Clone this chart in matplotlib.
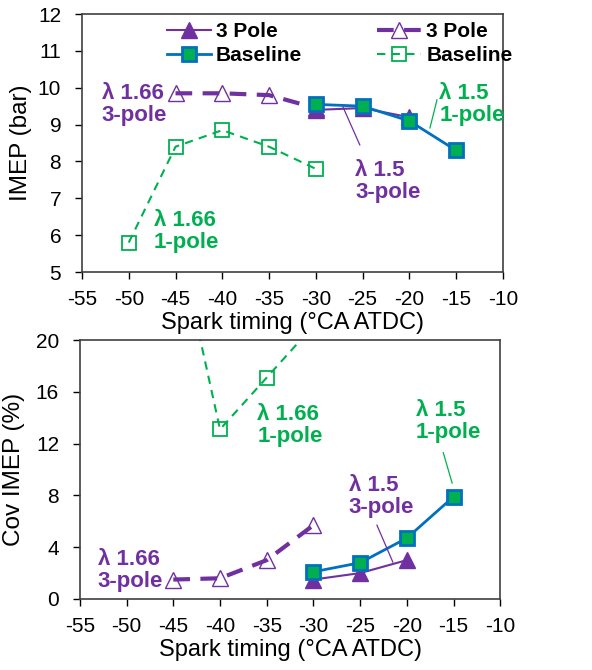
import matplotlib.pyplot as plt

plt.rcParams['font.family'] = ['Liberation Sans', 'DejaVu Sans']
plt.rcParams['axes.unicode_minus'] = False

# spark timing (deg CA ATDC)
t_15 = [-30, -25, -20]
t_15_base = [-30, -25, -20, -15]
t_166_3p = [-45, -40, -35, -30]
t_166_base = [-50, -45, -40, -35, -30]

# IMEP (bar)
imep_3p_15 = [9.4, 9.45, 9.2]
imep_3p_166 = [9.85, 9.85, 9.8, 9.45]
imep_base_15 = [9.55, 9.5, 9.1, 8.3]
imep_base_166 = [5.8, 8.4, 8.85, 8.4, 7.8]

# CoV IMEP (%)
cov_3p_15 = [1.5, 2.0, 3.0]
cov_3p_166 = [1.5, 1.6, 3.0, 5.7]
cov_base_15 = [2.1, 2.8, 4.7, 7.9]
cov_base_166 = [40.0, 29.5, 13.1, 17.1, 21.1]

purple = '#7030A0'
green = '#00B050'
blue = '#0070C0'

fig = plt.figure(figsize=(5.92, 6.70), dpi=100)
ax1 = fig.add_axes([0.1385, 0.594, 0.711, 0.385])
ax2 = fig.add_axes([0.135, 0.106, 0.710, 0.3865])


def draw(ax, y3s, y3d, ybs, ybd):
    ax.plot(t_166_base, ybd, '--', color=green, lw=1.5, marker='s', ms=10,
            mfc='none', mec=green, mew=1.3, label='Baseline', dashes=(4, 3))
    ax.plot(t_166_3p, y3d, '--', color=purple, lw=3, marker='^', ms=11,
            mfc='none', mec=purple, mew=1.0, label='3 Pole', dashes=(4, 2.5))
    ax.plot(t_15, y3s, '-', color=purple, lw=1.5, marker='^', ms=11,
            mfc=purple, mec=purple, label='3 Pole')
    ax.plot(t_15_base, ybs, '-', color=blue, lw=2, marker='s', ms=10,
            mfc=green, mec=blue, mew=2, label='Baseline')
    ax.set_xlim(-55, -10)
    ax.set_xticks(range(-55, -9, 5))
    ax.tick_params(labelsize=15, direction='out', length=5, width=1)
    ax.tick_params(axis='x', pad=8)
    ax.tick_params(axis='y', pad=10)
    for s in ax.spines.values():
        s.set_color('#404040')
        s.set_linewidth(1.2)
    ax.set_xlabel('Spark timing (°CA ATDC)', fontsize=17, labelpad=2)


draw(ax1, imep_3p_15, imep_3p_166, imep_base_15, imep_base_166)
ax1.set_ylim(5, 12)
ax1.set_yticks(range(5, 13))
ax1.set_ylabel('IMEP (bar)', fontsize=17.5, labelpad=4)

h, l = ax1.get_legend_handles_labels()
order = [2, 3, 1, 0]
ax1.legend([h[i] for i in order], [l[i] for i in order], ncol=2, frameon=False,
           loc='upper left', bbox_to_anchor=(0.202, 0.97), borderpad=0,
           borderaxespad=0, prop={'weight': 'bold', 'size': 15},
           handlelength=2.1, handletextpad=0.25, columnspacing=3.6,
           labelspacing=0.25)

bold = dict(fontsize=16, fontweight='bold', linespacing=1.05)
ax1.text(-52.9, 9.55, 'λ 1.66\n3-pole', color=purple, va='center', **bold)
ax1.text(-47.3, 6.1, 'λ 1.66\n1-pole', color=green, va='center', **bold)
ax1.text(-25.8, 7.45, 'λ 1.5\n3-pole', color=purple, va='center', **bold)
ax1.text(-16.8, 9.55, 'λ 1.5\n1-pole', color=green, va='center', **bold)
ax1.plot([-27.1, -25.3], [9.48, 8.45], color=purple, lw=0.9)
ax1.plot([-17.8, -17.05], [8.91, 9.67], color=green, lw=0.9)

draw(ax2, cov_3p_15, cov_3p_166, cov_base_15, cov_base_166)
ax2.set_ylim(0, 20)
ax2.set_yticks(range(0, 21, 4))
ax2.set_ylabel('Cov IMEP (%)', fontsize=17.5, labelpad=8)

ax2.text(-36.0, 13.4, 'λ 1.66\n1-pole', color=green, va='center', **bold)
ax2.text(-19.05, 13.7, 'λ 1.5\n1-pole', color=green, va='center', **bold)
ax2.text(-26.2, 7.9, 'λ 1.5\n3-pole', color=purple, va='center', **bold)
ax2.text(-53.1, 2.2, 'λ 1.66\n3-pole', color=purple, va='center', **bold)
ax2.plot([-16.1, -15.15], [11.3, 8.95], color=green, lw=0.9)
ax2.plot([-23.2, -21.5], [5.7, 2.85], color=purple, lw=0.9)

fig.savefig('out.png', dpi=100)
